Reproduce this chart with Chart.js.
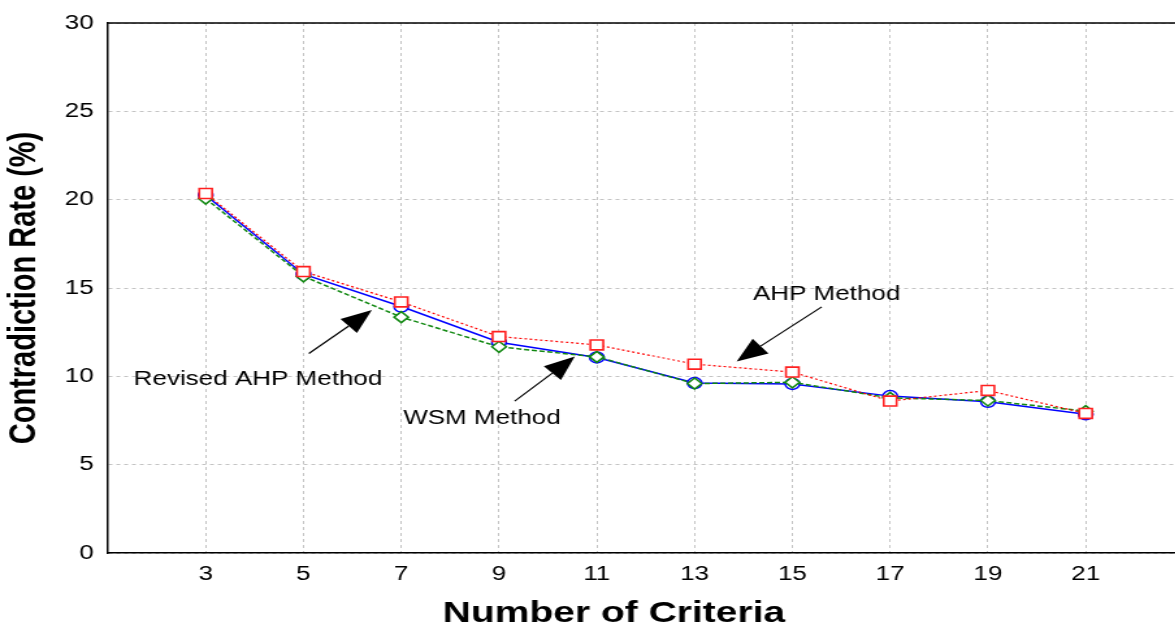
<!DOCTYPE html>
<html><head><meta charset="utf-8">
<script src="https://cdn.jsdelivr.net/npm/chart.js@4.4.1/dist/chart.umd.min.js"></script>
<style>
html,body{margin:0;padding:0;background:#fff;overflow:hidden;}
#wrap{width:904px;height:629px;transform:scaleX(1.3);transform-origin:0 0;}
</style></head><body>
<div id="wrap"><canvas id="c" width="904" height="629"></canvas></div>
<script>
// ---- data ----
const criteria = [3, 5, 7, 9, 11, 13, 15, 17, 19, 21];
const ahp = [20.35, 15.93, 14.21, 12.25, 11.78, 10.69, 10.24, 8.60, 9.20, 7.90];
const wsm = [20.25, 15.78, 13.95, 11.93, 11.07, 9.62, 9.57, 8.88, 8.56, 7.85];
const revisedAhp = [20.06, 15.66, 13.35, 11.67, 11.10, 9.59, 9.66, 8.78, 8.63, 8.03];
const yTicks = [0, 5, 10, 15, 20, 25, 30];
const xRange = [1, 22.83];
const xTitle = 'Number of Criteria';
const xTitleAt = 11.35;   // data position the x-axis title is centred on
const notes = [
  { text: 'Revised AHP Method', tx: 4.07, ty: 9.83, from: [5.11, 11.29], to: [6.40, 13.76] },
  { text: 'WSM Method', tx: 8.65, ty: 7.64, from: [9.32, 8.60], to: [10.55, 11.12] },
  { text: 'AHP Method', tx: 15.70, ty: 14.61, from: [15.60, 13.93], to: [13.86, 10.84] }
];

const FONT = "'Liberation Sans', Arial, sans-serif";
const pts = arr => criteria.map((c, i) => ({ x: c, y: arr[i] }));

const notesPlugin = {
  id: 'notes',
  afterDraw(chart) {
    const { ctx, chartArea, scales } = chart;
    const xs = scales.x, ys = scales.y;
    ctx.save();
    // top frame line
    ctx.strokeStyle = '#000';
    ctx.lineWidth = 1.5;
    ctx.beginPath();
    ctx.moveTo(chartArea.left, chartArea.top);
    ctx.lineTo(chartArea.right, chartArea.top);
    ctx.stroke();
    notes.forEach(n => {
      const x0 = xs.getPixelForValue(n.from[0]), y0 = ys.getPixelForValue(n.from[1]);
      const x1 = xs.getPixelForValue(n.to[0]), y1 = ys.getPixelForValue(n.to[1]);
      const dx = x1 - x0, dy = y1 - y0, len = Math.hypot(dx, dy);
      const ux = dx / len, uy = dy / len;
      const L = 24, W = 9.5;
      const bx = x1 - ux * L, by = y1 - uy * L;
      ctx.strokeStyle = '#000';
      ctx.lineWidth = 1.2;
      ctx.beginPath();
      ctx.moveTo(x0, y0);
      ctx.lineTo(bx, by);
      ctx.stroke();
      ctx.fillStyle = '#000';
      ctx.beginPath();
      ctx.moveTo(x1, y1);
      ctx.lineTo(bx - uy * W, by + ux * W);
      ctx.lineTo(bx + uy * W, by - ux * W);
      ctx.closePath();
      ctx.fill();
      ctx.font = '20px ' + FONT;
      ctx.textAlign = 'center';
      ctx.textBaseline = 'middle';
      ctx.fillText(n.text, xs.getPixelForValue(n.tx), ys.getPixelForValue(n.ty));
    });
    // x-axis title
    ctx.font = 'bold 30px ' + FONT;
    ctx.textAlign = 'center';
    ctx.textBaseline = 'alphabetic';
    ctx.fillStyle = '#000';
    ctx.fillText(xTitle, xs.getPixelForValue(xTitleAt), chart.height - 7);
    ctx.restore();
  }
};

new Chart(document.getElementById('c'), {
  type: 'line',
  data: {
    datasets: [
      { label: 'AHP Method', data: pts(ahp), borderColor: '#ff0000', borderWidth: 1.2, borderDash: [2, 2],
        pointStyle: 'rect', pointRadius: 7, pointBorderWidth: 1.6, pointBorderColor: '#ff2020', pointBackgroundColor: '#ffffff', order: 1 },
      { label: 'Revised AHP Method', data: pts(revisedAhp), borderColor: '#118811', borderWidth: 1.5, borderDash: [4, 2],
        pointStyle: 'rectRot', pointRadius: 5.5, pointBorderWidth: 1.5, pointBorderColor: '#118811', pointBackgroundColor: '#ffffff', order: 2 },
      { label: 'WSM Method', data: pts(wsm), borderColor: '#0000ff', borderWidth: 1.5,
        pointStyle: 'circle', pointRadius: 5.5, pointBorderWidth: 1.5, pointBorderColor: '#0000ff', pointBackgroundColor: '#ffffff', order: 3 }
    ]
  },
  options: {
    responsive: false,
    animation: false,
    layout: { autoPadding: false, padding: { top: 19, right: 0, left: 0, bottom: 0 } },
    plugins: { legend: { display: false }, tooltip: { enabled: false } },
    elements: { line: { tension: 0 } },
    scales: {
      x: {
        type: 'linear', min: xRange[0], max: xRange[1],
        afterBuildTicks: s => { s.ticks = criteria.map(v => ({ value: v })); },
        afterFit: s => { s.height = 76; s.paddingLeft = 0; s.paddingRight = 0; },
        grid: { color: '#c4c4c4', lineWidth: 1, drawTicks: false },
        border: { display: true, color: '#000', width: 1.5, dash: [3, 3] },
        ticks: { color: '#000', padding: 9, font: { family: FONT, size: 20 }, maxRotation: 0 },
        title: { display: false }
      },
      y: {
        min: 0, max: 30,
        afterBuildTicks: s => { s.ticks = yTicks.map(v => ({ value: v })); },
        afterFit: s => { s.width = 83; },
        grid: { color: '#c4c4c4', lineWidth: 1, drawTicks: false },
        border: { display: true, color: '#000', width: 1.5, dash: [3, 3] },
        ticks: { color: '#000', padding: 11, font: { family: FONT, size: 20 } },
        title: { display: true, text: 'Contradiction Rate (%)', color: '#000', padding: { top: 2, bottom: 0 },
                 font: { family: FONT, size: 29, weight: 'bold' } }
      }
    }
  },
  plugins: [notesPlugin]
});
</script>
</body></html>
